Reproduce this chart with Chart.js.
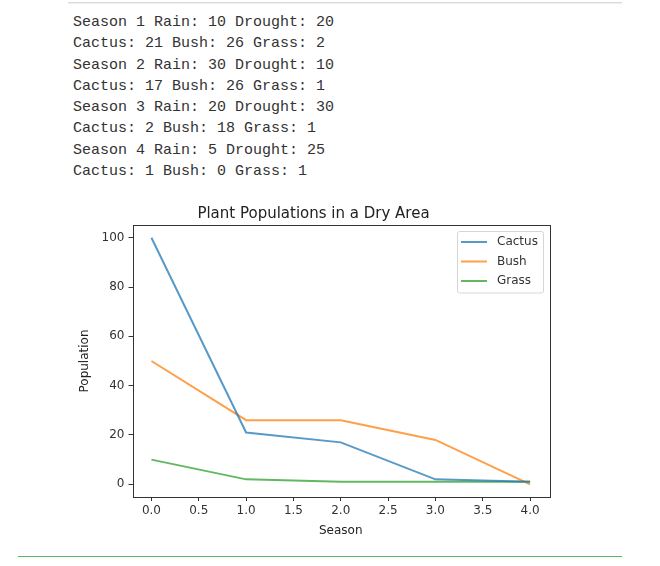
<!DOCTYPE html>
<html>
<head>
<meta charset="utf-8">
<script src="https://cdn.jsdelivr.net/npm/chart.js@4.4.0/dist/chart.umd.min.js"></script>
<style>
  html, body { margin: 0; padding: 0; background: #fff; }
  body { width: 660px; height: 566px; position: relative; overflow: hidden; }
  #topline { position: absolute; left: 68px; top: 2px; width: 554px; height: 1px; background: #d9d9d9; box-shadow: 0 1px 1px #eee; }
  #out { position: absolute; left: 73px; top: 12px; margin: 0; font-family: "Liberation Mono", monospace; font-size: 15px; line-height: 21.3px; color: #333; }
  #bottomline { position: absolute; left: 18px; top: 556px; width: 604px; height: 1px; background: #5cb85c; }
  #wrap { position: absolute; left: 0; top: 0; width: 660px; height: 566px; }
</style>
</head>
<body>
<div id="topline"></div>
<pre id="out"></pre>
<div id="wrap"><canvas id="chart"></canvas></div>
<div id="bottomline"></div>
<script>
const outputLines = [
  "Season 1 Rain: 10 Drought: 20",
  "Cactus: 21 Bush: 26 Grass: 2",
  "Season 2 Rain: 30 Drought: 10",
  "Cactus: 17 Bush: 26 Grass: 1",
  "Season 3 Rain: 20 Drought: 30",
  "Cactus: 2 Bush: 18 Grass: 1",
  "Season 4 Rain: 5 Drought: 25",
  "Cactus: 1 Bush: 0 Grass: 1"
];

const seasons = [0, 1, 2, 3, 4];
const cactus = [100, 21, 17, 2, 1];
const bush = [50, 26, 26, 18, 0];
const grass = [10, 2, 1, 1, 1];

const xTicks = [0, 0.5, 1, 1.5, 2, 2.5, 3, 3.5, 4];
const yTicks = [0, 20, 40, 60, 80, 100];

document.getElementById("out").textContent = outputLines.join("\n");

const toPoints = vals => seasons.map((s, i) => ({ x: s, y: vals[i] }));

// box around the plot, like matplotlib spines
const frame = {
  id: 'frame',
  afterDraw(chart) {
    const a = chart.chartArea;
    const c = chart.ctx;
    c.save();
    c.strokeStyle = '#333';
    c.lineWidth = 1;
    c.strokeRect(Math.round(a.left) + 0.5, Math.round(a.top) + 0.5,
      Math.round(a.right - a.left), Math.round(a.bottom - a.top));
    c.restore();
  }
};

// legend inside the upper right corner
const boxLegend = {
  id: 'boxLegend',
  afterDraw(chart) {
    const a = chart.chartArea;
    const c = chart.ctx;
    const sets = chart.data.datasets;
    const w = 86, rowH = 19.5;
    const h = sets.length * rowH + 3;
    const x0 = a.right - w - 6, y0 = a.top + 6;
    c.save();
    c.fillStyle = 'rgba(255,255,255,0.8)';
    c.strokeStyle = '#d6d6d6';
    c.lineWidth = 1;
    c.beginPath();
    c.roundRect(x0 + 0.5, y0 + 0.5, w, h, 2);
    c.fill();
    c.stroke();
    c.font = '12px "DejaVu Sans", sans-serif';
    c.textBaseline = 'middle';
    sets.forEach((ds, i) => {
      const y = y0 + 11 + i * rowH;
      c.strokeStyle = ds.borderColor;
      c.lineWidth = 2;
      c.beginPath();
      c.moveTo(x0 + 4, y);
      c.lineTo(x0 + 30, y);
      c.stroke();
      c.fillStyle = '#333';
      c.fillText(ds.label, x0 + 40, y);
    });
    c.restore();
  }
};

new Chart(document.getElementById("chart"), {
  type: 'line',
  data: {
    datasets: [
      { label: 'Cactus', data: toPoints(cactus), borderColor: 'rgba(31,119,180,0.75)' },
      { label: 'Bush', data: toPoints(bush), borderColor: 'rgba(255,127,14,0.75)' },
      { label: 'Grass', data: toPoints(grass), borderColor: 'rgba(44,160,44,0.75)' }
    ]
  },
  options: {
    responsive: true,
    maintainAspectRatio: false,
    animation: false,
    elements: {
      line: { borderWidth: 2, tension: 0 },
      point: { radius: 0 }
    },
    layout: { padding: { left: 78, right: 111, top: 203, bottom: 28 } },
    plugins: {
      legend: { display: false },
      tooltip: { enabled: false },
      title: {
        display: true,
        text: 'Plant Populations in a Dry Area',
        color: '#222',
        font: { family: 'DejaVu Sans', size: 15, weight: 'normal' },
        padding: { top: 2, bottom: 2 }
      }
    },
    scales: {
      x: {
        type: 'linear',
        min: -0.2,
        max: 4.2,
        afterFit: s => { s.height = 41; },
        afterBuildTicks: s => { s.ticks = xTicks.map(v => ({ value: v })); },
        grid: { drawOnChartArea: false, drawTicks: true, tickLength: 4, color: '#333' },
        border: { display: false },
        ticks: {
          color: '#333',
          padding: 3,
          maxRotation: 0,
          font: { family: 'DejaVu Sans', size: 12 },
          callback: v => v.toFixed(1)
        },
        title: {
          display: true,
          text: 'Season',
          color: '#222',
          font: { family: 'DejaVu Sans', size: 12 },
          padding: { top: 0, bottom: 0 }
        }
      },
      y: {
        min: -5.15,
        max: 105.15,
        afterFit: s => { s.width = 54.5; },
        afterBuildTicks: s => { s.ticks = yTicks.map(v => ({ value: v })); },
        grid: { drawOnChartArea: false, drawTicks: true, tickLength: 4, color: '#333' },
        border: { display: false },
        ticks: {
          color: '#333',
          padding: 4,
          font: { family: 'DejaVu Sans', size: 12 }
        },
        title: {
          display: true,
          text: 'Population',
          color: '#222',
          font: { family: 'DejaVu Sans', size: 12 },
          padding: { top: 0, bottom: 0 }
        }
      }
    }
  },
  plugins: [frame, boxLegend]
});
</script>
</body>
</html>
